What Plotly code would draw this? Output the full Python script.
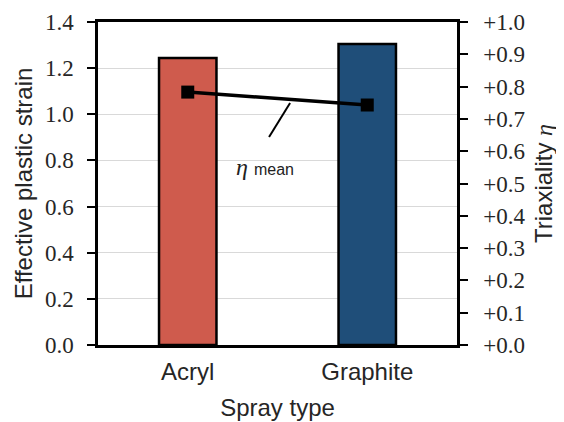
import plotly.graph_objects as go

categories = ["Acryl", "Graphite"]
strain_values = [1.244, 1.305]
eta_mean = [0.783, 0.743]
bar_colors = ["#CF5B4D", "#1F4E79"]
left_ticks = [0.0, 0.2, 0.4, 0.6, 0.8, 1.0, 1.2, 1.4]
right_ticks = [i / 10 for i in range(11)]
right_tick_labels = ["+%.1f" % v for v in right_ticks]

# annotation leader (in x index units / right-axis units)
leader_x = [0.57, 0.453]
leader_y = [0.749, 0.644]
label_pos = (0.43, 0.55)

SERIF = "Times New Roman"
SANS = "Arial"
tick_font = dict(family=SERIF, size=23, color="#262626")
title_font = dict(family=SANS, size=24, color="#262626")

fig = go.Figure()
fig.add_trace(go.Bar(
    x=[0, 1], y=strain_values, width=0.32,
    marker=dict(color=bar_colors, line=dict(color="black", width=2.5)),
    showlegend=False, hoverinfo="skip"))
fig.add_trace(go.Scatter(
    x=[0, 1], y=eta_mean, yaxis="y2", mode="lines+markers",
    line=dict(color="black", width=3.5),
    marker=dict(symbol="square", size=13, color="black"),
    showlegend=False))

fig.add_shape(type="line", xref="x", yref="y2",
              x0=leader_x[0], y0=leader_y[0], x1=leader_x[1], y1=leader_y[1],
              line=dict(color="black", width=2))
fig.add_annotation(x=label_pos[0], y=label_pos[1], xref="x", yref="y2",
                   text="<i>η</i> <span style='font-size:16px;font-family:Arial'>mean</span>",
                   showarrow=False,
                   font=dict(family=SERIF, size=24, color="#222"))

fig.update_layout(
    width=556, height=414,
    margin=dict(l=90, r=107, t=14, b=77, autoexpand=False),
    paper_bgcolor="white", plot_bgcolor="white",
    xaxis=dict(
        range=[-0.5, 1.5], tickmode="array", tickvals=[0, 1], ticktext=categories,
        showline=True, linecolor="black", linewidth=2.5, mirror=True,
        ticks="", showgrid=False, zeroline=False, automargin=False,
        ticklabelstandoff=3,
        tickfont=dict(family=SANS, size=24, color="#262626"),
        title=dict(text="Spray type", font=title_font, standoff=16)),
    yaxis=dict(
        range=[0, 1.4], tickmode="array", tickvals=left_ticks,
        ticktext=["%.1f" % v for v in left_ticks],
        showline=True, linecolor="black", linewidth=2.5,
        ticks="outside", ticklen=8, tickwidth=1.5, tickcolor="black",
        ticklabelstandoff=9, automargin=False,
        showgrid=True, gridcolor="#D9D9D9", gridwidth=1, zeroline=False,
        tickfont=tick_font,
        title=dict(text="Effective plastic strain", font=title_font, standoff=6)),
    yaxis2=dict(
        overlaying="y", side="right", range=[0, 1.0],
        tickmode="array", tickvals=right_ticks, ticktext=right_tick_labels,
        showline=True, linecolor="black", linewidth=2.5,
        ticks="outside", ticklen=8, tickwidth=1.5, tickcolor="black",
        ticklabelstandoff=11, automargin=False,
        showgrid=False, zeroline=False,
        tickfont=tick_font,
        title=dict(text="Triaxiality <i style='font-family:Times New Roman'>η</i>",
                   font=title_font, standoff=11)),
)

fig.write_html("out.html")
